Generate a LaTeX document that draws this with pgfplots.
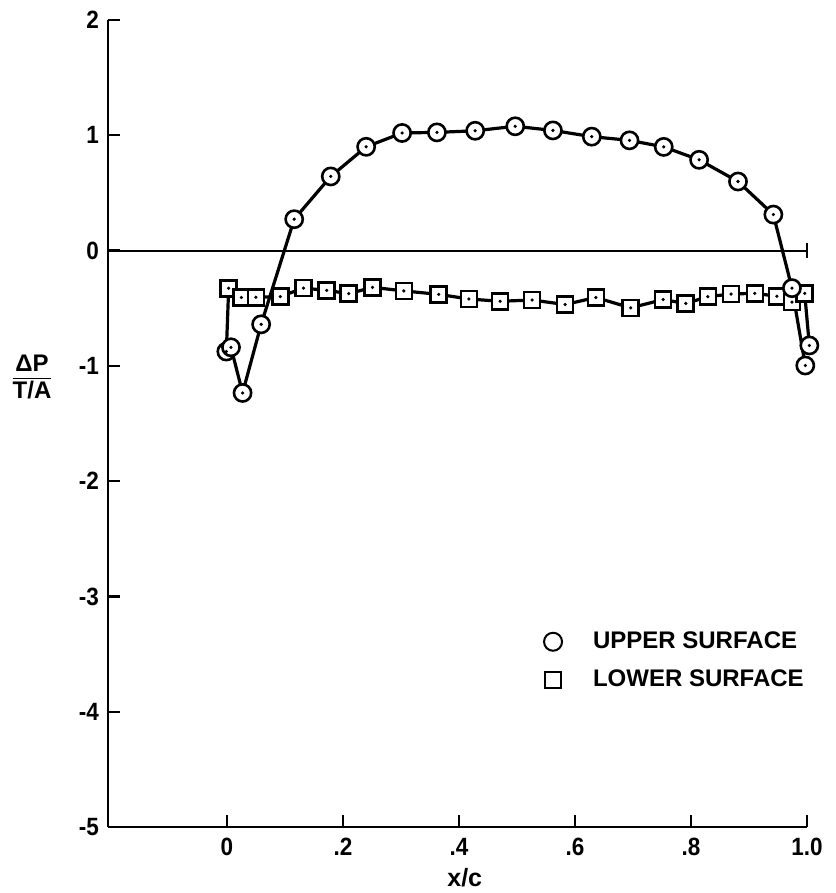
\documentclass[border=0pt]{standalone}
\usepackage{fontspec}
\setmainfont{Liberation Sans}
\newfontfamily\condfont{Liberation Sans}[FakeStretch=0.9]
\usepackage{pgfplots}
\pgfplotsset{compat=1.18}
\usepackage{pgfplotstable}
\usetikzlibrary{calc}

\pgfplotstableread{
x y
0.007 -0.839
0.027 -1.235
0.059 -0.640
0.116 0.272
0.179 0.643
0.240 0.900
0.302 1.020
0.362 1.025
0.428 1.039
0.497 1.078
0.562 1.042
0.629 0.988
0.694 0.956
0.753 0.899
0.814 0.787
0.881 0.599
0.942 0.312
0.974 -0.326
0.997 -0.997
}\upper

\pgfplotstableread{
x y
-0.001 -0.876
0.003 -0.327
0.025 -0.407
0.050 -0.405
0.092 -0.399
0.132 -0.326
0.172 -0.345
0.210 -0.374
0.251 -0.319
0.305 -0.350
0.365 -0.380
0.417 -0.420
0.471 -0.440
0.526 -0.429
0.583 -0.468
0.636 -0.407
0.696 -0.497
0.752 -0.425
0.791 -0.459
0.829 -0.400
0.869 -0.377
0.910 -0.371
0.948 -0.396
0.974 -0.447
0.996 -0.371
1.004 -0.823
}\lowerline

\pgfplotstableread{
x y
0.003 -0.327
0.025 -0.407
0.050 -0.405
0.092 -0.399
0.132 -0.326
0.172 -0.345
0.210 -0.374
0.251 -0.319
0.305 -0.350
0.365 -0.380
0.417 -0.420
0.471 -0.440
0.526 -0.429
0.583 -0.468
0.636 -0.407
0.696 -0.497
0.752 -0.425
0.791 -0.459
0.829 -0.400
0.869 -0.377
0.910 -0.371
0.948 -0.396
0.974 -0.447
0.996 -0.371
}\lowersq

\pgfplotstableread{
x y
-0.001 -0.876
1.004 -0.823
}\extra

\begin{document}
\begin{tikzpicture}
\begin{axis}[
  scale only axis, width=349.5pt, height=403.5pt,
  xmin=-0.205, xmax=1.0, ymin=-5, ymax=2,
  axis x line*=bottom, axis y line*=left,
  axis line style={line width=1.2pt, -},
  xtick={0,0.2,0.4,0.6,0.8,1.0}, xticklabels={0,.2,.4,.6,.8,1.0},
  ytick={-5,-4,-3,-2,-1,0,1,2}, yticklabels={-5,-4,-3,-2,-1,0,1,2},
  tick align=inside, major tick length=6pt,
  tick style={line width=1.2pt, black},
  ticklabel style={font=\condfont\fontsize{12.5}{14}\selectfont\bfseries},
  xticklabel style={yshift=-2pt},
  yticklabel style={xshift=-1pt},
  clip=false,
  legend style={at={(axis cs:0.546,-3.557)}, anchor=west, draw=none, fill=none,
    inner sep=0pt, row sep=5pt, column sep=13.5pt,
    font=\fontsize{12}{14}\selectfont\bfseries},
  legend cell align=left,
]
\addlegendimage{only marks, mark=o, mark size=4.5pt, mark options={line width=1pt}}
\addlegendentry{UPPER SURFACE}
\addlegendimage{only marks, mark=square, mark size=4pt, mark options={line width=1pt}}
\addlegendentry{LOWER SURFACE}

\addplot[forget plot, black, line width=1pt, mark=|, mark indices={2}, mark size=3.75pt] coordinates {(-0.205,0) (1,0)};
\addplot[forget plot, black, line width=1.6pt, no marks] table {\lowerline};
\addplot[forget plot, only marks, mark=square*, mark size=4pt, mark options={fill=white, draw=black, line width=1.3pt, rounded corners=1.2pt}] table {\lowersq};
\addplot[forget plot, only marks, mark=*, mark size=4.3pt, mark options={fill=white, draw=black, line width=1.3pt}] table {\extra};
\addplot[forget plot, black, line width=1.6pt, mark=*, mark size=4.3pt, mark options={fill=white, draw=black, line width=1.3pt}] table {\upper};
\addplot[forget plot, only marks, mark=*, mark size=0.6pt, black] table {\lowersq};
\addplot[forget plot, only marks, mark=*, mark size=0.6pt, black] table {\extra};
\addplot[forget plot, only marks, mark=*, mark size=0.6pt, black] table {\upper};

\node[font=\fontsize{12}{14}\selectfont\bfseries, inner sep=0pt] at (axis cs:-0.205,-1.12) [xshift=-38pt]
  {\begin{tabular}{@{}c@{}}ΔP\\[-1pt]\hline\rule{0pt}{10pt}T/A\end{tabular}};
\node[font=\fontsize{12.5}{14}\selectfont\bfseries, anchor=center] at (axis cs:0.41,-5) [yshift=-25.5pt] {x/c};
\end{axis}
\pgfresetboundingbox
\path ($(current axis.south west)+(-54pt,-33pt)$) rectangle ($(current axis.north east)+(14pt,10pt)$);
\end{tikzpicture}
\end{document}
